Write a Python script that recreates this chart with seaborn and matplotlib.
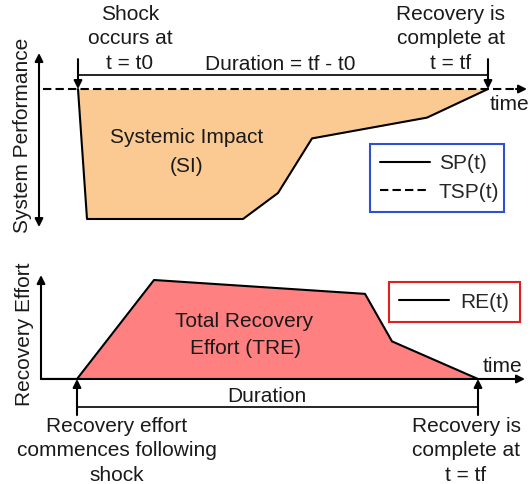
import matplotlib
matplotlib.use("Agg")
import matplotlib.pyplot as plt
import seaborn as sns

# system performance SP(t) and target TSP(t)  (time in arbitrary units, performance in %)
sp_time = [78, 87, 243, 278, 312, 427, 488]
sp_value = [100, 0, 0, 20, 62, 78, 100]
tsp_time = [43, 518]
tsp_value = [100, 100]

# recovery effort RE(t)
re_time = [41, 77, 154, 365, 392, 478]
re_value = [0, 0, 100, 86, 38, 0]

W, H = 530, 484
ORANGE = "#fbca92"
SALMON = "#ff8080"
BLUE = "#2f50d0"
RED = "#e02020"

sns.set_theme(style="white")
plt.rcParams["font.family"] = ["Liberation Sans", "DejaVu Sans"]
FS = 15

fig = plt.figure(figsize=(W / 100, H / 100), dpi=100)
ax1 = fig.add_axes([0, 0.5, 1, 0.5])
ax2 = fig.add_axes([0, 0, 1, 0.5])
for ax in (ax1, ax2):
    ax.set_xlim(0, W)
    ax.axis("off")
ax1.set_ylim(-17.7, 168.5)
ax2.set_ylim(-106.1, 138.4)

arrow = dict(arrowstyle="-|>", color="black", lw=1.5, mutation_scale=12,
             shrinkA=0, shrinkB=0)


def txt(x, y, s, **kw):
    kw.setdefault("ha", "center")
    kw.setdefault("va", "center")
    fig.text(x / W, 1 - y / H, s, fontsize=FS, color="#1a1a1a", **kw)


# ---- top panel: system performance ----
ax1.fill_between(sp_time, sp_value, 100, color=ORANGE, lw=0)
sns.lineplot(x=sp_time, y=sp_value, ax=ax1, color="black", linewidth=1.5,
             label="SP(t)")
sns.lineplot(x=tsp_time, y=tsp_value, ax=ax1, color="black", linewidth=1.5,
             linestyle=(0, (4, 2)), label="TSP(t)")
ax1.annotate("", xy=(527, 100), xytext=(516, 100), arrowprops=arrow)

t0, tf = sp_time[0], sp_time[-1]
ax1.annotate("", xy=(t0, 100), xytext=(t0, 123), arrowprops=arrow)
ax1.annotate("", xy=(tf, 100), xytext=(tf, 123), arrowprops=arrow)
ax1.plot([t0, tf], [110.8, 110.8], color="black", lw=1.2)
ax1.annotate("", xy=(39, 127.7), xytext=(39, -6.2),
             arrowprops=dict(arrow, arrowstyle="<|-|>"))

leg = ax1.legend(loc="lower left", bbox_to_anchor=(0.698, 0.124, 0.253, 0.31),
                 mode="expand", fontsize=FS, frameon=True, fancybox=False,
                 edgecolor=BLUE, framealpha=1, handlelength=2.4,
                 handletextpad=0.4, borderpad=0.5, labelspacing=0.45,
                 borderaxespad=0)
leg.get_frame().set_linewidth(1.5)

txt(130, 39, "Shock\noccurs at\nt = t0", linespacing=1.35)
txt(451, 39, "Recovery is\ncomplete at\nt = tf", linespacing=1.35)
txt(280, 64, "Duration = tf - t0")
txt(509, 104, "time")
txt(23, 135, "System Performance", rotation=90)
txt(187, 143, "Systemic Impact", va="baseline")
txt(187, 172, "(SI)", va="baseline")

# ---- bottom panel: recovery effort ----
ax2.fill_between(re_time, re_value, 0, color=SALMON, lw=0)
sns.lineplot(x=re_time, y=re_value, ax=ax2, color="black", linewidth=1.5,
             label="RE(t)")
ax2.annotate("", xy=(525, 0), xytext=(41, 0), arrowprops=arrow)
ax2.annotate("", xy=(41, 105), xytext=(41, 0), arrowprops=arrow)

r0, rf = re_time[1], re_time[-1]
ax2.annotate("", xy=(r0, 0), xytext=(r0, -36.4), arrowprops=arrow)
ax2.annotate("", xy=(rf, 0), xytext=(rf, -36.4), arrowprops=arrow)
ax2.plot([r0, rf], [-28.3, -28.3], color="black", lw=1.2)

leg2 = ax2.legend(loc="lower left", bbox_to_anchor=(0.734, 0.669, 0.247, 0.194),
                  mode="expand", fontsize=FS, frameon=True, fancybox=False,
                  edgecolor=RED, framealpha=1, handlelength=2.4,
                  handletextpad=0.5, borderpad=0.5, borderaxespad=0)
leg2.get_frame().set_linewidth(1.5)

txt(244, 327, "Total Recovery", va="baseline")
txt(246, 354, "Effort (TRE)", va="baseline")
txt(267, 396, "Duration")
txt(502, 367, "time")
txt(25, 334, "Recovery Effort", rotation=90)
txt(117, 451, "Recovery effort\ncommences following\nshock", linespacing=1.35)
txt(466, 451, "Recovery is\ncomplete at\nt = tf", linespacing=1.35)

fig.savefig("out.png", dpi=100, facecolor="white")
